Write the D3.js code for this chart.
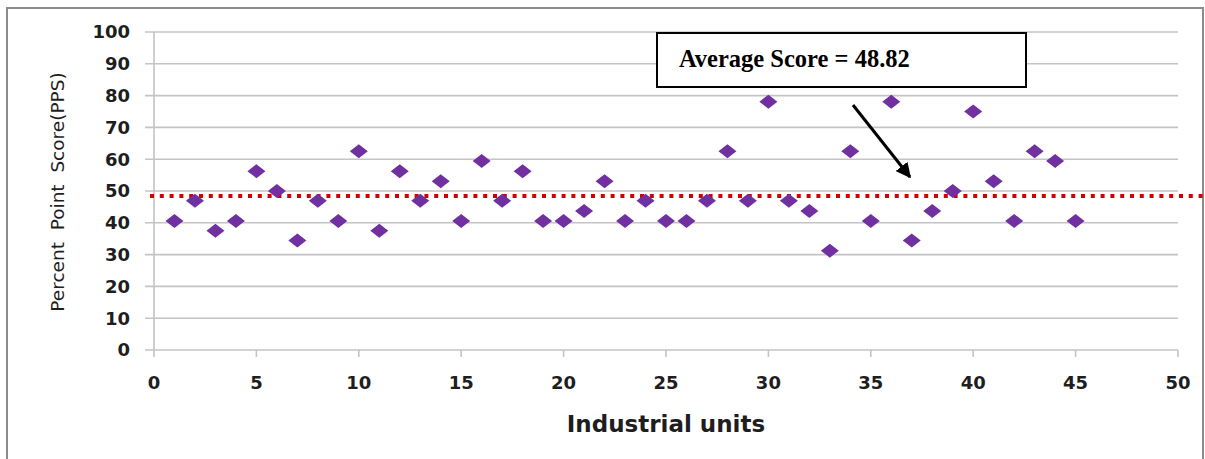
<!DOCTYPE html>
<html>
<head>
<meta charset="utf-8">
<script src="https://cdn.jsdelivr.net/npm/d3@7"></script>
<style>
  body { margin: 0; background: #fff; }
</style>
</head>
<body>
<script>
// Data
const units = d3.range(1, 46);
const scores = [
  40.6, 46.9, 37.5, 40.6, 56.25, 50, 34.4, 46.9, 40.6, 62.5,
  37.5, 56.25, 46.9, 53.1, 40.6, 59.4, 46.9, 56.25, 40.6, 40.6,
  43.75, 53.1, 40.6, 46.9, 40.6, 40.6, 46.9, 62.5, 46.9, 78.1,
  46.9, 43.75, 31.25, 62.5, 40.6, 78.1, 34.4, 43.75, 50, 75,
  53.1, 40.6, 62.5, 59.4, 40.6
];
const avgLine = 48.4;
const avgLabel = 'Average Score = 48.82';
const xTicks = d3.range(0, 51, 5);
const yTicks = d3.range(0, 101, 10);

const width = 1205;
const height = 459;
const sans = '"DejaVu Sans", Verdana, sans-serif';

const svg = d3.select('body')
  .append('svg')
  .attr('width', width)
  .attr('height', height);

// outer frame
svg.append('rect')
  .attr('x', 7).attr('y', 8)
  .attr('width', 1196).attr('height', 470)
  .attr('fill', 'none')
  .attr('stroke', '#8c8c8c')
  .attr('stroke-width', 2);

const x = d3.scaleLinear().domain([0, 50]).range([154, 1178]);
const y = d3.scaleLinear().domain([0, 100]).range([350, 32]);

// horizontal gridlines (with small stubs left of the axis)
svg.append('g')
  .selectAll('line')
  .data(yTicks)
  .enter()
  .append('line')
  .attr('x1', 145)
  .attr('x2', x(50))
  .attr('y1', d => y(d))
  .attr('y2', d => y(d))
  .attr('stroke', '#c4c4c4')
  .attr('stroke-width', 1.6);

// y axis line
svg.append('line')
  .attr('x1', x(0)).attr('x2', x(0))
  .attr('y1', y(100)).attr('y2', y(0) + 7)
  .attr('stroke', '#c4c4c4')
  .attr('stroke-width', 1.6);

// x tick marks
svg.append('g')
  .selectAll('line')
  .data(xTicks.slice(1))
  .enter()
  .append('line')
  .attr('x1', d => x(d)).attr('x2', d => x(d))
  .attr('y1', y(0)).attr('y2', y(0) + 7)
  .attr('stroke', '#c4c4c4')
  .attr('stroke-width', 1.6);

// y tick labels
svg.append('g')
  .selectAll('text')
  .data(yTicks)
  .enter()
  .append('text')
  .attr('x', 130)
  .attr('y', d => y(d))
  .attr('dy', '0.36em')
  .attr('text-anchor', 'end')
  .style('font-family', sans)
  .style('font-size', '18px')
  .style('font-weight', 'bold')
  .attr('fill', '#1e1e1e')
  .text(d => d);

// x tick labels
svg.append('g')
  .selectAll('text')
  .data(xTicks)
  .enter()
  .append('text')
  .attr('x', d => x(d))
  .attr('y', 383)
  .attr('dy', '0.36em')
  .attr('text-anchor', 'middle')
  .style('font-family', sans)
  .style('font-size', '18px')
  .style('font-weight', 'bold')
  .attr('fill', '#1e1e1e')
  .text(d => d);

// axis titles
svg.append('text')
  .attr('x', 666)
  .attr('y', 432)
  .attr('text-anchor', 'middle')
  .style('font-family', sans)
  .style('font-size', '23px')
  .style('font-weight', 'bold')
  .attr('fill', '#1e1e1e')
  .text('Industrial units');

svg.append('text')
  .attr('transform', 'translate(64,192) rotate(-90)')
  .attr('text-anchor', 'middle')
  .style('font-family', sans)
  .style('font-size', '18.5px')
  .style('white-space', 'pre')
  .attr('fill', '#1e1e1e')
  .text('Percent  Point  Score(PPS)');

// average dotted line
svg.append('line')
  .attr('x1', 150).attr('x2', width)
  .attr('y1', y(avgLine)).attr('y2', y(avgLine))
  .attr('stroke', '#d40000')
  .attr('stroke-width', 4)
  .attr('stroke-dasharray', '4,5.8');

// diamond markers
const diamond = 'M0,-7 L9,0 L0,7 L-9,0 Z';
svg.append('g')
  .selectAll('path')
  .data(units)
  .enter()
  .append('path')
  .attr('d', diamond)
  .attr('transform', (d, i) => `translate(${x(d)},${y(scores[i])})`)
  .attr('fill', '#7030a0');

// annotation box
svg.append('rect')
  .attr('x', 657).attr('y', 33)
  .attr('width', 369).attr('height', 54)
  .attr('fill', '#fff')
  .attr('stroke', '#000')
  .attr('stroke-width', 2);

svg.append('text')
  .attr('x', 679)
  .attr('y', 67)
  .style('font-family', '"Liberation Serif", "Times New Roman", serif')
  .style('font-size', '24.5px')
  .style('font-weight', 'bold')
  .attr('fill', '#000')
  .text(avgLabel);

// arrow
svg.append('defs').append('marker')
  .attr('id', 'arrow')
  .attr('viewBox', '0 0 10 10')
  .attr('refX', 9).attr('refY', 5)
  .attr('markerWidth', 5).attr('markerHeight', 5)
  .attr('markerUnits', 'strokeWidth')
  .attr('orient', 'auto')
  .append('path')
  .attr('d', 'M0,0 L10,5 L0,10 Z')
  .attr('fill', '#000');

svg.append('line')
  .attr('x1', 853).attr('y1', 105)
  .attr('x2', 910).attr('y2', 177)
  .attr('stroke', '#000')
  .attr('stroke-width', 3)
  .attr('marker-end', 'url(#arrow)');
</script>
</body>
</html>
